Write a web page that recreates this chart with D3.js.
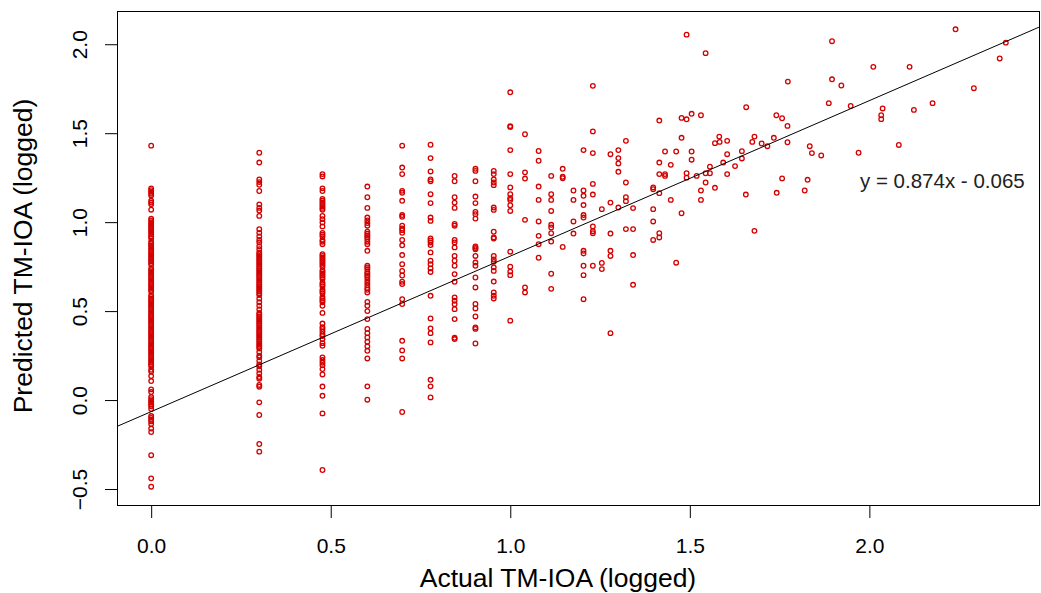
<!DOCTYPE html>
<html>
<head>
<meta charset="utf-8">
<script src="https://cdn.jsdelivr.net/npm/d3@7"></script>
<style>
  body { margin: 0; background: #fff; }
  text { font-family: "Liberation Sans", Arial, sans-serif; }
</style>
</head>
<body>
<script>
// actual TM-IOA (logged) takes discrete values at the low end: one list of predictions per level
const columnX = [0, 0.301, 0.477, 0.602, 0.699, 0.778, 0.845, 0.903, 0.954, 1.0,
  1.041, 1.079, 1.114, 1.146, 1.176, 1.204, 1.23, 1.255, 1.279, 1.301, 1.322, 1.342]

const yAt0 = [1.43, 1.19, 1.18, 1.17, 1.16, 1.15, 1.12, 1.11, 1.10, 1.07,
  1.02, 1.01, 1.00, 0.99, 0.98, 0.97, 0.96, 0.95, 0.94, 0.93, 0.92, 0.91, 0.89, 0.88, 0.87,
  0.86, 0.85, 0.84, 0.83, 0.82, 0.81, 0.80, 0.79, 0.78, 0.77, 0.76, 0.74, 0.73, 0.72, 0.71,
  0.70, 0.69, 0.68, 0.67, 0.66, 0.65, 0.64, 0.63, 0.62, 0.61, 0.59, 0.58, 0.57, 0.56, 0.55,
  0.54, 0.53, 0.52, 0.51, 0.50, 0.49, 0.48, 0.47, 0.46, 0.45, 0.44, 0.43, 0.42, 0.41, 0.40,
  0.39, 0.38, 0.37, 0.36, 0.35, 0.34, 0.33, 0.32, 0.31, 0.30, 0.29, 0.28, 0.27, 0.26, 0.25,
  0.24, 0.23, 0.22, 0.21, 0.20, 0.19, 0.17, 0.16, 0.135, 0.107, 0.06, 0.045, 0.017, 0.005,
  -0.005, -0.015, -0.025, -0.035, -0.05, -0.09, -0.10, -0.11, -0.12, -0.135, -0.16, -0.18,
  -0.31, -0.44, -0.487]
const yAt030 = [1.39, 1.335, 1.24, 1.225, 1.21, 1.175, 1.10, 1.08, 1.065, 1.035, 0.96, 0.94,
  0.92, 0.90, 0.886, 0.865, 0.848, 0.83, 0.82, 0.81, 0.80, 0.79, 0.78, 0.77, 0.76, 0.75, 0.74,
  0.73, 0.72, 0.71, 0.70, 0.69, 0.68, 0.67, 0.66, 0.65, 0.64, 0.63, 0.62, 0.61, 0.60, 0.59,
  0.57, 0.55, 0.53, 0.51, 0.49, 0.48, 0.47, 0.46, 0.45, 0.44, 0.43, 0.42, 0.41, 0.40, 0.39,
  0.38, 0.37, 0.36, 0.35, 0.34, 0.33, 0.32, 0.31, 0.30, 0.29, 0.27, 0.25, 0.24, 0.22, 0.20,
  0.19, 0.17, 0.15, 0.13, 0.12, 0.085, 0.075, -0.013, -0.084, -0.247, -0.29]
const yAt048 = [1.27, 1.257, 1.19, 1.175, 1.13, 1.12, 1.11, 1.10, 1.09, 1.08, 1.07, 1.035,
  1.017, 0.998, 0.976, 0.94, 0.93, 0.92, 0.90, 0.89, 0.876, 0.82, 0.81, 0.80, 0.79, 0.78, 0.77,
  0.76, 0.75, 0.73, 0.72, 0.71, 0.70, 0.69, 0.68, 0.66, 0.65, 0.64, 0.62, 0.61, 0.60, 0.58,
  0.57, 0.56, 0.55, 0.53, 0.49, 0.43, 0.41, 0.40, 0.385, 0.37, 0.36, 0.343, 0.32, 0.305,
  0.24, 0.225, 0.21, 0.195, 0.174, 0.144, 0.076, 0.024, -0.075, -0.393]
const yAt060 = [1.20, 1.14, 1.08, 1.026, 1.01, 0.995, 0.98, 0.946, 0.935, 0.925, 0.915, 0.905,
  0.89, 0.876, 0.839, 0.755, 0.745, 0.735, 0.72, 0.71, 0.70, 0.69, 0.675, 0.66, 0.645, 0.63,
  0.62, 0.605, 0.552, 0.53, 0.50, 0.455, 0.40, 0.376, 0.352, 0.328, 0.302, 0.277, 0.234,
  0.077, 0.002]
const yAt070 = [1.43, 1.307, 1.27, 1.176, 1.165, 1.12, 1.04, 1.03, 0.98, 0.965, 0.955, 0.94,
  0.90, 0.87, 0.815, 0.764, 0.726, 0.70, 0.665, 0.652, 0.567, 0.54, 0.333, 0.279, 0.234, -0.067]
const yAt078 = [1.435, 1.36, 1.285, 1.24, 1.23, 1.157, 1.107, 1.026, 1.007, 0.908, 0.897,
  0.886, 0.871, 0.83, 0.783, 0.764, 0.74, 0.72, 0.586, 0.459, 0.403, 0.376, 0.324, 0.114,
  0.077, 0.015]
const yAt085 = [1.26, 1.23, 1.14, 1.11, 1.08, 0.99, 0.98, 0.90, 0.886, 0.858, 0.81, 0.783,
  0.755, 0.708, 0.665, 0.577, 0.558, 0.539, 0.511, 0.455, 0.35, 0.343]
const yAt090 = [1.30, 1.288, 1.23, 1.144, 1.107, 1.058, 1.045, 1.02, 0.863, 0.855, 0.848,
  0.81, 0.773, 0.755, 0.689, 0.633, 0.54, 0.515, 0.47, 0.408, 0.40, 0.318]
const yAt095 = [1.288, 1.27, 1.24, 1.223, 1.208, 1.082, 1.069, 0.946, 0.914, 0.908, 0.81,
  0.79, 0.777, 0.746, 0.726, 0.666, 0.605, 0.586, 0.571]
const yAt100 = [1.73, 1.54, 1.535, 1.405, 1.27, 1.195, 1.157, 1.135, 1.125, 1.095, 1.063,
  0.834, 0.75, 0.722, 0.702, 0.446]
const yAt104 = [1.494, 1.28, 1.245, 1.013, 0.633, 0.605]
const yAt108 = [1.40, 1.345, 1.20, 1.125, 1.004, 0.923, 0.876, 0.80]
const yAt111 = [1.26, 1.157, 1.125, 1.063, 0.985, 0.97, 0.938, 0.891, 0.71, 0.625]
const yAt115 = [1.30, 1.255, 1.247, 0.861]
const yAt118 = [1.178, 1.125, 1.004, 0.936]
const yAt120 = [1.405, 1.178, 1.148, 1.096, 1.04, 1.026, 0.839, 0.824, 0.755, 0.702, 0.567]
const yAt123 = [1.766, 1.51, 1.388, 1.215, 1.155, 0.976, 0.949, 0.938, 0.755]
const yAt126 = [1.073, 0.771, 0.736]
const yAt128 = [1.382, 1.11, 0.936, 0.839, 0.81, 0.376]
const yAt130 = [1.405, 1.36, 1.33, 1.283, 1.082]
const yAt132 = [1.457, 1.223, 1.14, 1.118, 0.961]
const yAt134 = [1.079, 0.961, 0.815, 0.648]
const columnY = [yAt0, yAt030, yAt048, yAt060, yAt070, yAt078, yAt085, yAt090, yAt095, yAt100,
  yAt104, yAt108, yAt111, yAt115, yAt118, yAt120, yAt123, yAt126, yAt128, yAt130, yAt132, yAt134]

// higher values: [actual, predicted]
const upperPoints = [
  [1.398, 1.195], [1.398, 1.185], [1.398, 1.073], [1.398, 1.004], [1.398, 0.90],
  [1.415, 1.571], [1.415, 1.335], [1.415, 1.27], [1.415, 1.163], [1.415, 0.938], [1.415, 0.914],
  [1.431, 1.397], [1.431, 1.27], [1.431, 1.26], [1.447, 1.322], [1.447, 1.125],
  [1.462, 1.397], [1.462, 0.772], [1.477, 1.586], [1.477, 1.474], [1.477, 1.05],
  [1.491, 2.054], [1.491, 1.578], [1.491, 1.275], [1.491, 1.25],
  [1.505, 1.609], [1.505, 1.397], [1.505, 1.351], [1.519, 1.26],
  [1.531, 1.601], [1.531, 1.178], [1.531, 1.125], [1.544, 1.95], [1.544, 1.275], [1.544, 1.223],
  [1.556, 1.312], [1.556, 1.275], [1.57, 1.193], [1.57, 1.444], [1.583, 1.451], [1.582, 1.481],
  [1.604, 1.457], [1.604, 1.382], [1.593, 1.335], [1.626, 1.315], [1.604, 1.27],
  [1.645, 1.399], [1.645, 1.358], [1.657, 1.646], [1.656, 1.155],
  [1.68, 1.481], [1.674, 1.451], [1.70, 1.442], [1.716, 1.427], [1.734, 1.474], [1.772, 1.449],
  [1.741, 1.601], [1.757, 1.584], [1.772, 1.541], [1.773, 1.79],
  [1.742, 1.165], [1.757, 1.246], [1.68, 0.951],
  [1.82, 1.178], [1.828, 1.238], [1.834, 1.427], [1.84, 1.388], [1.866, 1.375],
  [1.887, 1.669], [1.896, 1.803], [1.896, 2.017], [1.922, 1.768], [1.948, 1.653],
  [1.97, 1.39], [2.011, 1.873], [2.037, 1.639], [2.033, 1.601], [2.033, 1.579],
  [2.082, 1.434], [2.112, 1.873], [2.124, 1.631], [2.176, 1.669],
  [2.24, 2.084], [2.291, 1.753], [2.363, 1.92], [2.38, 2.009]
]

const fit = { slope: 0.874, intercept: -0.065 }
const xTicks = [0, 0.5, 1.0, 1.5, 2.0]
const yTicks = [-0.5, 0, 0.5, 1.0, 1.5, 2.0]

let points = columnX.flatMap((x, i) => columnY[i].map(y => [x, y])).concat(upperPoints)

let W = 1041, H = 593
let mLeft = 117, mRight = 1040, mTop = 11, mBottom = 505

// R style: pad the data range by 4% each side
function pad(ext) {
    let d = (ext[1] - ext[0]) * 0.04
    return [ext[0] - d, ext[1] + d]
}

let x = d3.scaleLinear(pad(d3.extent(points, d => d[0])), [mLeft, mRight])
let y = d3.scaleLinear(pad(d3.extent(points, d => d[1])), [mBottom, mTop])

let svg = d3.select("body").append("svg")
    .attr("width", W)
    .attr("height", H)

svg.append("defs").append("clipPath").attr("id", "plotclip")
    .append("rect")
    .attr("x", mLeft).attr("y", mTop)
    .attr("width", mRight - mLeft).attr("height", mBottom - mTop)

// x axis
let xa = svg.append("g")
    .attr("transform", `translate(0,${mBottom})`)
    .call(d3.axisBottom(x).tickValues(xTicks).tickSize(13).tickPadding(20).tickFormat(d3.format(".1f")))
xa.select(".domain").remove()
xa.selectAll("line").attr("stroke", "#000")
xa.selectAll("text").attr("fill", "#000").style("font-size", "21px")

// y axis, labels turned like R's las = 0
let ya = svg.append("g")
    .attr("transform", `translate(${mLeft},0)`)
    .call(d3.axisLeft(y).tickValues(yTicks).tickSize(12).tickFormat(d3.format(".1f")))
ya.select(".domain").remove()
ya.selectAll("line").attr("stroke", "#000")
ya.selectAll("text")
    .attr("fill", "#000")
    .style("font-size", "21px")
    .attr("x", 0).attr("y", 0).attr("dy", 0)
    .attr("text-anchor", "middle")
    .attr("transform", "translate(-30,0) rotate(-90)")

let plot = svg.append("g").attr("clip-path", "url(#plotclip)")

plot.append("g").selectAll("circle")
    .data(points)
    .enter()
    .append("circle")
        .attr("cx", d => x(d[0]))
        .attr("cy", d => y(d[1]))
        .attr("r", 2.3)
        .attr("fill", "none")
        .attr("stroke", "#d40000")
        .attr("stroke-width", 1.3)

let xd = x.domain()
plot.append("line")
    .attr("x1", x(xd[0])).attr("y1", y(fit.slope * xd[0] + fit.intercept))
    .attr("x2", x(xd[1])).attr("y2", y(fit.slope * xd[1] + fit.intercept))
    .attr("stroke", "#000")
    .attr("stroke-width", 1)

// box
svg.append("rect")
    .attr("x", mLeft + 0.5).attr("y", mTop + 0.5)
    .attr("width", mRight - mLeft - 1).attr("height", mBottom - mTop)
    .attr("fill", "none")
    .attr("stroke", "#000")
    .attr("stroke-width", 1)

svg.append("text")
    .attr("x", 860).attr("y", 188)
    .style("font-size", "20.5px")
    .attr("fill", "#222")
    .text(`y = ${fit.slope}x - ${Math.abs(fit.intercept).toFixed(3)}`)

svg.append("text")
    .attr("x", 558).attr("y", 587)
    .attr("text-anchor", "middle")
    .style("font-size", "26.5px")
    .text("Actual TM-IOA (logged)")

svg.append("text")
    .attr("transform", `translate(32,256) rotate(-90)`)
    .attr("text-anchor", "middle")
    .style("font-size", "26.5px")
    .text("Predicted TM-IOA (logged)")
</script>
</body>
</html>
